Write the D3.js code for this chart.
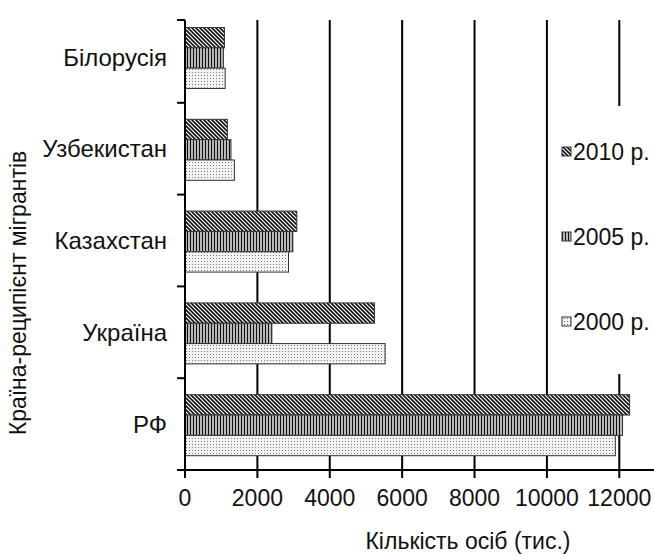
<!DOCTYPE html>
<html>
<head>
<meta charset="utf-8">
<script src="https://cdn.jsdelivr.net/npm/d3@7"></script>
<style>
  body { margin: 0; background: #fff; }
  text { font-family: "Liberation Sans", Arial, sans-serif; fill: #111; }
</style>
</head>
<body>
<div id="viz"></div>
<script>
// data
var countries = ['Білорусія', 'Узбекистан', 'Казахстан', 'Україна', 'РФ'];
var years = ['2010 р.', '2005 р.', '2000 р.'];
var v2010 = [1090, 1170, 3090, 5235, 12285];
var v2005 = [1060, 1270, 2980, 2400, 12090];
var v2000 = [1110, 1365, 2860, 5530, 11890];
var xTicks = [0, 2000, 4000, 6000, 8000, 10000, 12000];

var width = 654, height = 556;
var plotTop = 20, plotBottom = 470, x0 = 185;

var svg = d3.select('#viz').append('svg')
    .attr('width', width)
    .attr('height', height);

// patterns
var defs = svg.append('defs');

var p1 = defs.append('pattern').attr('id', 'p2010')
    .attr('patternUnits', 'userSpaceOnUse').attr('width', 4).attr('height', 4);
p1.append('rect').attr('width', 4).attr('height', 4).attr('fill', '#fff');
p1.append('path').attr('d', 'M-1,-1L5,5M3,-1L5,1M-1,3L1,5')
    .attr('stroke', '#111').attr('stroke-width', 1.6);

var p2 = defs.append('pattern').attr('id', 'p2005')
    .attr('patternUnits', 'userSpaceOnUse').attr('width', 3).attr('height', 3);
p2.append('rect').attr('width', 3).attr('height', 3).attr('fill', '#fff');
p2.append('rect').attr('x', 0.7).attr('width', 1.6).attr('height', 3).attr('fill', '#111');

var p3 = defs.append('pattern').attr('id', 'p2000')
    .attr('patternUnits', 'userSpaceOnUse').attr('width', 3).attr('height', 3);
p3.append('rect').attr('width', 3).attr('height', 3).attr('fill', '#f2f2f2');
p3.append('rect').attr('x', 0).attr('y', 0).attr('width', 1).attr('height', 1).attr('fill', '#7a7a7a');

var fills = ['url(#p2010)', 'url(#p2005)', 'url(#p2000)'];
var series = [v2010, v2005, v2000];

// scales
var x = d3.scaleLinear().domain([0, 12000]).range([x0, 619.3]);
var y = d3.scaleBand().domain(countries).range([11, plotBottom]);
var yIn = d3.scaleBand().domain(years).range([16.5, 77.5]);

// gridlines
svg.append('g').selectAll('line')
    .data(xTicks.slice(1))
    .enter().append('line')
    .attr('x1', d => x(d)).attr('x2', d => x(d))
    .attr('y1', plotTop).attr('y2', plotBottom)
    .attr('stroke', '#000').attr('stroke-width', 2);

// bars
var rows = [];
countries.forEach((c, i) => {
    years.forEach((yr, j) => {
        rows.push({ c: c, yr: yr, v: series[j][i], f: fills[j] });
    });
});

svg.append('g').selectAll('rect')
    .data(rows)
    .enter().append('rect')
    .attr('x', x(0))
    .attr('y', d => y(d.c) + yIn(d.yr))
    .attr('width', d => x(d.v) - x(0))
    .attr('height', yIn.bandwidth())
    .attr('fill', d => d.f)
    .attr('stroke', '#333')
    .attr('stroke-width', 1);

// y axis
var yAx = svg.append('g');
yAx.append('line')
    .attr('x1', x0).attr('x2', x0)
    .attr('y1', plotTop).attr('y2', plotBottom + 8)
    .attr('stroke', '#000').attr('stroke-width', 2);
var yTickPos = [plotTop].concat(countries.slice(1).map(c => y(c)));
yAx.selectAll('.yt')
    .data(yTickPos)
    .enter().append('line')
    .attr('x1', x0 - 8).attr('x2', x0)
    .attr('y1', d => d).attr('y2', d => d)
    .attr('stroke', '#000').attr('stroke-width', 2);
yAx.selectAll('text')
    .data(countries)
    .enter().append('text')
    .attr('x', 167)
    .attr('y', d => y(d) + y.bandwidth() / 2)
    .attr('dy', '0.36em')
    .attr('text-anchor', 'end')
    .style('font-size', '24px')
    .text(d => d);

// x axis
var xAx = svg.append('g');
xAx.append('line')
    .attr('x1', x0 - 8).attr('x2', width)
    .attr('y1', plotBottom).attr('y2', plotBottom)
    .attr('stroke', '#000').attr('stroke-width', 2);
xAx.selectAll('.xt')
    .data(xTicks)
    .enter().append('line')
    .attr('x1', d => x(d)).attr('x2', d => x(d))
    .attr('y1', plotBottom).attr('y2', plotBottom + 8)
    .attr('stroke', '#000').attr('stroke-width', 2);
xAx.selectAll('text')
    .data(xTicks)
    .enter().append('text')
    .attr('x', d => x(d))
    .attr('y', 506)
    .attr('text-anchor', 'middle')
    .style('font-size', '23px')
    .text(d => d);

// axis titles
svg.append('text')
    .attr('x', 468)
    .attr('y', 549)
    .attr('text-anchor', 'middle')
    .style('font-size', '23px')
    .text('Кількість осіб (тис.)');

svg.append('text')
    .attr('transform', 'translate(26,293) rotate(-90)')
    .attr('text-anchor', 'middle')
    .style('font-size', '23px')
    .text('Країна-реципієнт мігрантів');

// legend
var leg = svg.append('g');
leg.append('rect')
    .attr('x', 556).attr('y', 106)
    .attr('width', width - 556).attr('height', 268)
    .attr('fill', '#fff');
var legY = d3.scalePoint().domain(years).range([152, 322]);
years.forEach((yr, j) => {
    leg.append('rect')
        .attr('x', 562).attr('y', legY(yr) - 5)
        .attr('width', 9).attr('height', 9)
        .attr('fill', fills[j])
        .attr('stroke', '#333').attr('stroke-width', 1);
    leg.append('text')
        .attr('x', 573)
        .attr('y', legY(yr))
        .attr('dy', '0.36em')
        .style('font-size', '23px')
        .text(yr);
});
</script>
</body>
</html>
